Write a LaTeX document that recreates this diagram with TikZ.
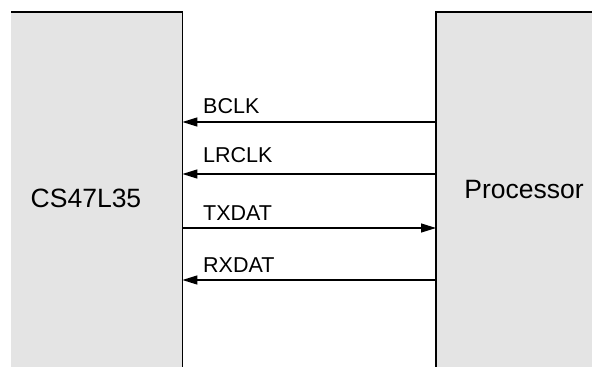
\documentclass[tikz,border=0pt]{standalone}
\usepackage{fontspec}
\setmainfont{Liberation Sans}
\usetikzlibrary{arrows.meta}

\tikzset{
  block/.style={fill=blockgray, draw=none, inner sep=0pt, anchor=north west},
  edge/.style={line width=1.5pt, line join=miter},
  sig/.style={line width=1.3pt, -{Triangle[length=15pt,width=9pt]}},
  siglabel/.style={anchor=base west, inner sep=0pt, font=\fontsize{21.5}{26}\selectfont},
  blocklabel/.style={anchor=base, inner sep=0pt, font=\fontsize{26.5}{32}\selectfont}
}
\definecolor{blockgray}{HTML}{E4E4E4}

\begin{document}
\begin{tikzpicture}[x=1pt, y=-1pt, >=Stealth]
  \useasboundingbox (0,0) rectangle (592,367);
  % Blocks
  \node[block, minimum width=171pt, minimum height=355pt] (codec) at (11,12) {};
  \node[block, minimum width=156pt, minimum height=355pt] (host) at (436,12) {};
  \draw[edge] (codec.north west) -- (codec.north east) -- (codec.south east);
  \draw[edge] (host.north east) -- (host.north west) -- (host.south west);
  \node[blocklabel] (codecname) at (86,207) {CS47L35};
  \node[blocklabel] (hostname) at (524,198) {Processor};
  % Signals
  \draw[sig] (host.west |- 0,122) -- (codec.east |- 0,122);
  \draw[sig] (host.west |- 0,174) -- (codec.east |- 0,174);
  \draw[sig] (codec.east |- 0,228) -- (host.west |- 0,228);
  \draw[sig] (host.west |- 0,280) -- (codec.east |- 0,280);
  % Signal names
  \node[siglabel] (bclk) at (203,113) {BCLK};
  \node[siglabel] (lrclk) at (203,162) {LRCLK};
  \node[siglabel] (txdat) at (203,220) {TXDAT};
  \node[siglabel] (rxdat) at (203,272) {RXDAT};
\end{tikzpicture}
\end{document}
